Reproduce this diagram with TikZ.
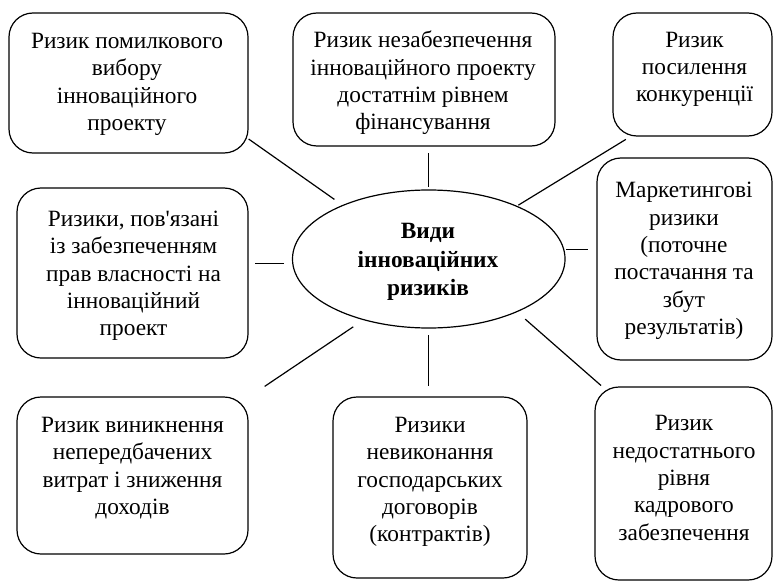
\documentclass[tikz,border=0pt]{standalone}
\usepackage{fontspec}
\setmainfont{Liberation Serif}
\usetikzlibrary{shapes.geometric}
\tikzset{font={\fontsize{17.5pt}{20.5pt}\selectfont}}

\begin{document}
\begin{tikzpicture}[x=0.75pt,y=-0.75pt,line width=0.9pt,
risk/.style={draw,rounded corners=18pt,inner sep=0pt},
txt/.style={align=center,inner sep=0pt}
]
\useasboundingbox (0,0) rectangle (773,581);

% centre
\node[draw,ellipse,inner sep=0pt,minimum width=204.4pt,minimum height=103.5pt] (e) at (428.75,259) {};
\node[txt,font={\fontsize{17.5pt}{21.5pt}\selectfont\bfseries}] (w) at (428,262) {Види\\інноваційних\\ризиків};

% boxes
\node[risk,minimum width=179.25pt,minimum height=105pt] (r1) at (128.5,83) {};
\node[risk,minimum width=196.5pt,minimum height=99.75pt] (r2) at (424,79.5) {};
\node[risk,minimum width=119.25pt,minimum height=92.25pt] (r3) at (692.5,74.5) {};
\node[risk,minimum width=131.25pt,minimum height=151.5pt] (r4) at (684.5,259) {};
\node[risk,minimum width=132.75pt,minimum height=144.75pt] (r5) at (683.5,483.5) {};
\node[risk,minimum width=145.5pt,minimum height=135.75pt] (r6) at (430,487.5) {};
\node[risk,minimum width=173.25pt,minimum height=117.75pt] (r7) at (132.5,475.5) {};
\node[risk,minimum width=173.25pt,minimum height=127.5pt] (r8) at (132.5,273) {};

\node[txt] (t1) at (127,84.5) {Ризик помилкового\\вибору\\інноваційного\\проекту};
\node[txt] (t2) at (423,83) {Ризик незабезпечення\\інноваційного проекту\\достатнім рівнем\\фінансування};
\node[txt] (t3) at (694.5,69.5) {Ризик\\посилення\\конкуренції};
\node[txt] (t4) at (684,261) {Маркетингові\\ризики\\(поточне\\постачання та\\збут\\результатів)};
\node[txt] (t5) at (684,478) {Ризик\\недостатнього\\рівня\\кадрового\\забезпечення};
\node[txt] (t6) at (430,482) {Ризики\\невиконання\\господарських\\договорів\\(контрактів)};
\node[txt] (t7) at (132.5,468) {Ризик виникнення\\непередбачених\\витрат і зниження\\доходів};
\node[txt] (t8) at (133.5,276) {Ризики, пов\textquotesingle язані\\із забезпеченням\\прав власності на\\інноваційний\\проект};

% connectors
\draw[shorten <=7.3pt] (e.148.8) -- (r1.-25.5);
\draw[shorten <=2pt,shorten >=5pt] (e.north) -- (e.north |- r2.south);
\draw[shorten <=1pt,shorten >=4pt] (e.31.5) -- (r3.225.4);
\draw[shorten <=1.3pt,shorten >=6pt] (e.4.7) -- (e.4.7 -| r4.west);
\draw[shorten <=8pt,shorten >=1pt] (e.-31.5) -- (r5.130.5);
\draw[shorten <=5pt,shorten >=7.5pt] (e.south) -- (e.south |- r6.north);
\draw[shorten <=9pt,shorten >=14.5pt] (e.223.1) -- (r7.34.65);
\draw[shorten <=6pt,shorten >=5pt] (e.182.5) -- (e.182.5 -| r8.east);
\end{tikzpicture}
\end{document}
